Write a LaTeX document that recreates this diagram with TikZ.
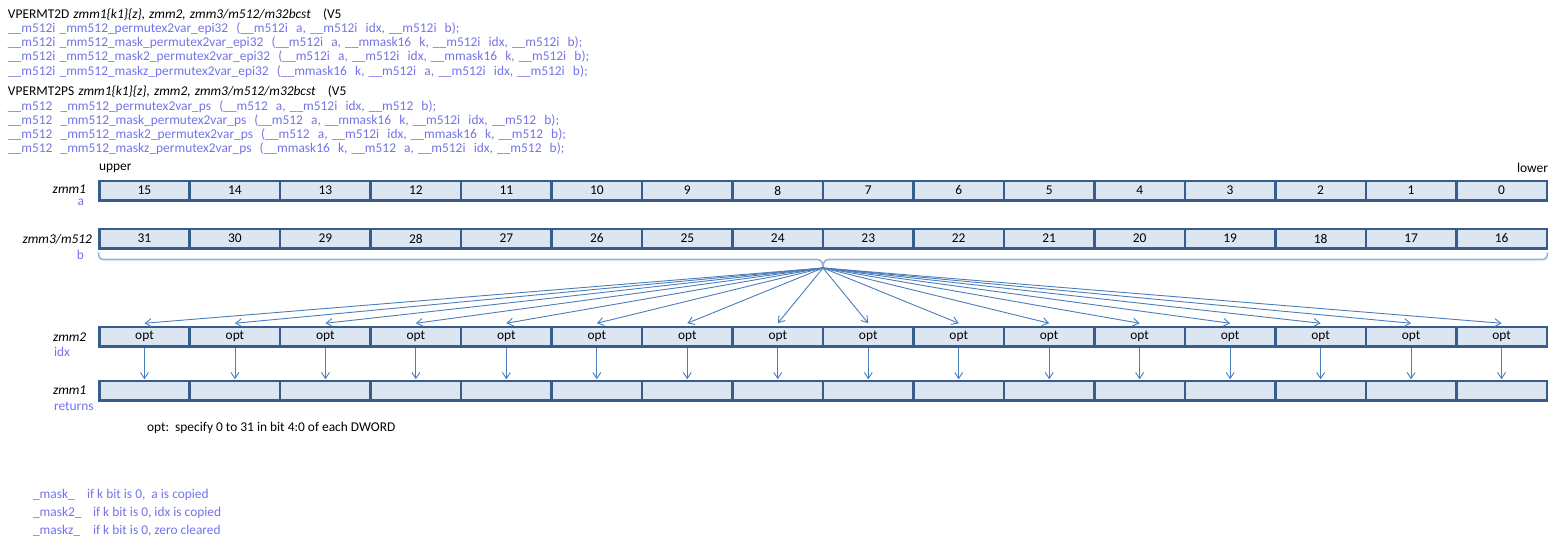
\documentclass[tikz,border=0pt]{standalone}
\usepackage{fontspec}
\setmainfont{Carlito}
\newfontfamily\hdrfont[WordSpace=1.35]{Carlito}
\usetikzlibrary{arrows.meta}
\definecolor{cellfill}{RGB}{220,230,242}
\definecolor{celledge}{RGB}{56,93,138}
\definecolor{arrowc}{RGB}{74,126,187}
\definecolor{bracec}{RGB}{149,179,215}
\definecolor{purp}{RGB}{115,115,235}
\begin{document}
\begin{tikzpicture}[x=1pt,y=-1pt,
  every node/.style={font=\fontsize{13.4}{15}\selectfont, inner sep=0pt, outer sep=0pt},
  cell/.style={draw=celledge, fill=cellfill, line width=2.5pt, minimum width=90.47pt, minimum height=19.5pt, anchor=center},
  hdr/.style={anchor=west, text=purp, font=\hdrfont\fontsize{13.4}{15}\selectfont},
  hdrk/.style={anchor=west, text=black, font=\hdrfont\fontsize{13.4}{15}\selectfont},
  reglbl/.style={font=\fontsize{13.4}{15}\selectfont\itshape},
  sublbl/.style={text=purp},
  arr/.style={draw=arrowc, line width=0.9pt, -{Straight Barb[length=6pt,width=8pt]}},
  bracestyle/.style={draw=bracec, line width=1.6pt}]
\useasboundingbox (0,0) rectangle (1556,546);

% header
\node[hdrk] (h1) at (8,14.5) {VPERMT2D \textit{zmm1\{k1\}\{z\}, zmm2, zmm3/m512/m32bcst}\ \ \ (V5};
\node[hdr] (h2) at (8,28.7) {\_\_m512i \_mm512\_permutex2var\_epi32\ \ (\_\_m512i\ \ a, \_\_m512i\ \ idx, \_\_m512i\ \ b);};
\node[hdr] (h3) at (8,42.9) {\_\_m512i \_mm512\_mask\_permutex2var\_epi32\ \ (\_\_m512i\ \ a, \_\_mmask16\ \ k, \_\_m512i\ \ idx, \_\_m512i\ \ b);};
\node[hdr] (h4) at (8,57.1) {\_\_m512i \_mm512\_mask2\_permutex2var\_epi32\ \ (\_\_m512i\ \ a, \_\_m512i\ \ idx, \_\_mmask16\ \ k, \_\_m512i\ \ b);};
\node[hdr] (h5) at (8,71.3) {\_\_m512i \_mm512\_maskz\_permutex2var\_epi32\ \ (\_\_mmask16\ \ k, \_\_m512i\ \ a, \_\_m512i\ \ idx, \_\_m512i\ \ b);};

\node[hdrk] (g1) at (8,92) {VPERMT2PS \textit{zmm1\{k1\}\{z\}, zmm2, zmm3/m512/m32bcst}\ \ \ (V5};
\node[hdr] (g2) at (8,106.2) {\_\_m512\ \ \_mm512\_permutex2var\_ps\ \ (\_\_m512\ \ a, \_\_m512i\ \ idx, \_\_m512\ \ b);};
\node[hdr] (g3) at (8,120.4) {\_\_m512\ \ \_mm512\_mask\_permutex2var\_ps\ \ (\_\_m512\ \ a, \_\_mmask16\ \ k, \_\_m512i\ \ idx, \_\_m512\ \ b);};
\node[hdr] (g4) at (8,134.6) {\_\_m512\ \ \_mm512\_mask2\_permutex2var\_ps\ \ (\_\_m512\ \ a, \_\_m512i\ \ idx, \_\_mmask16\ \ k, \_\_m512\ \ b);};
\node[hdr] (g5) at (8,148.8) {\_\_m512\ \ \_mm512\_maskz\_permutex2var\_ps\ \ (\_\_mmask16\ \ k, \_\_m512\ \ a, \_\_m512i\ \ idx, \_\_m512\ \ b);};

% upper / lower
\node[anchor=west] (upper) at (99,168) {upper};
\node[anchor=east] (lower) at (1548,168) {lower};

% row labels
\node[reglbl, anchor=east] (l1) at (86,189) {zmm1};
\node[sublbl, anchor=east] (l1b) at (84,202) {a};
\node[reglbl, anchor=east] (l2) at (92,239) {zmm3/m512};
\node[sublbl, anchor=east] (l2b) at (84,255) {b};
\node[reglbl, anchor=west] (l3) at (53,337) {zmm2};
\node[sublbl, anchor=west] (l3b) at (54,352) {idx};
\node[reglbl, anchor=west] (l4) at (53,390) {zmm1};
\node[sublbl, anchor=west] (l4b) at (54,406) {returns};

% cells
\foreach \j in {0,...,15} {
  \pgfmathsetmacro\cx{99.25+90.47*(\j+0.5)}
  \pgfmathtruncatemacro\na{15-\j}
  \pgfmathtruncatemacro\nb{31-\j}
  \node[cell] (a\j) at (\cx,190.5) {\na};
  \node[cell] (b\j) at (\cx,238.5) {\nb};
  \node[cell] (o\j) at (\cx,336.5) {opt};
  \node[cell] (r\j) at (\cx,390.5) {};
}

% brace
\coordinate (bl) at (98.5,252.5);
\coordinate (br) at (1547.5,252.5);
\coordinate (tip) at (823,268);
\draw[bracestyle] (bl) .. controls (98.5,257.5) and (100,259.5) .. (104,259.5) -- (817,259.5)
  .. controls (821,259.5) and (823,262) .. (tip)
  .. controls (823,262) and (825,259.5) .. (829,259.5) -- (1542,259.5)
  .. controls (1546,259.5) and (1547.5,257.5) .. (br);

% arrows
\foreach \j in {0,...,15} {
  \draw[arr] (tip) -- ([yshift=3.5pt]o\j.north);
  \draw[arr, shorten <=1.3pt] (o\j.south) -- ([yshift=1.5pt]r\j.north);
}

% notes
\node[anchor=west] (opt) at (147,428) {opt:\ \ specify 0 to 31 in bit 4:0 of each DWORD};
\node[sublbl, anchor=west] (m1) at (33,495) {\_mask\_};
\node[sublbl, anchor=west] (m1t) at (87,495) {if k bit is 0,\ \ a is copied};
\node[sublbl, anchor=west] (m2) at (33,513) {\_mask2\_};
\node[sublbl, anchor=west] (m2t) at (93,513) {if k bit is 0, idx is copied};
\node[sublbl, anchor=west] (m3) at (33,531) {\_maskz\_};
\node[sublbl, anchor=west] (m3t) at (93,531) {if k bit is 0, zero cleared};
\end{tikzpicture}
\end{document}
